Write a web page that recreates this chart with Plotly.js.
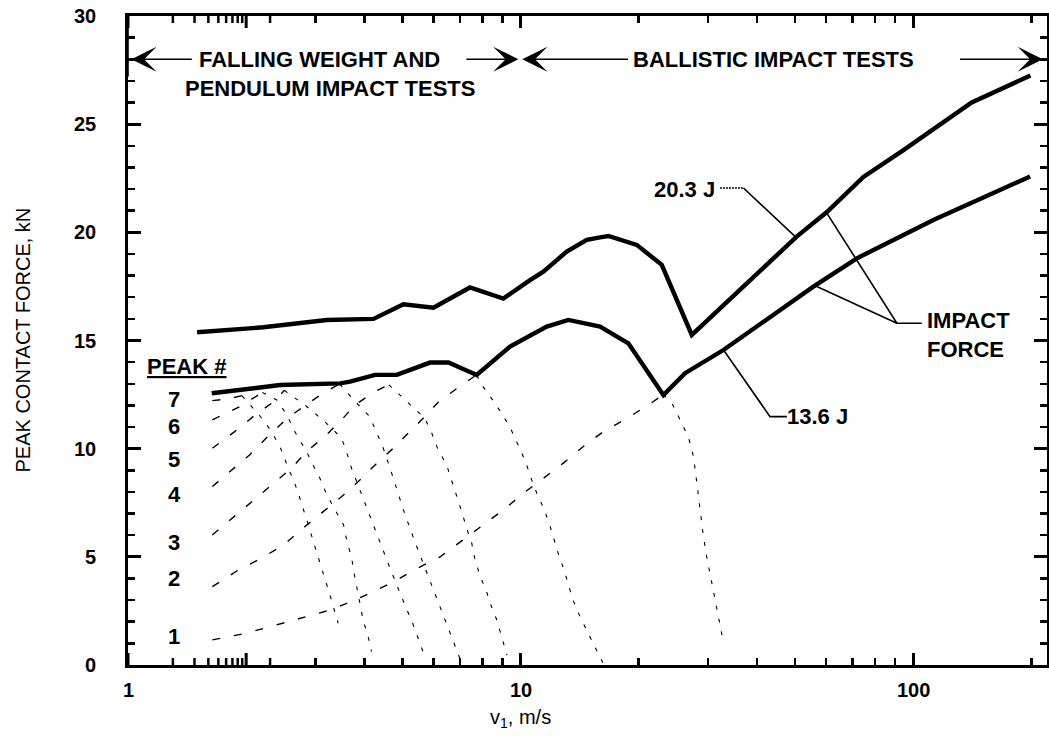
<!DOCTYPE html>
<html><head><meta charset="utf-8">
<script src="https://cdn.plot.ly/plotly-3.0.1.min.js"></script>
<style>html,body{margin:0;padding:0;background:#fff}#chart{width:1049px;height:736px}</style>
</head><body><div id="chart"></div>
<script>
// ---- thick impact-force curves ----
const curve203X = [1.5, 2.21, 3.21, 4.22, 5.03, 6.0, 7.43, 9.04, 10.57, 11.43, 13.11, 14.75, 15.94, 16.74, 19.77, 22.89, 27.3, 50.5, 60.3, 74.7, 94.5, 141, 199];
const curve203Y = [15.38, 15.61, 15.95, 16.0, 16.67, 16.52, 17.45, 16.94, 17.79, 18.18, 19.11, 19.65, 19.77, 19.83, 19.42, 18.5, 15.26, 19.8, 20.94, 22.56, 23.8, 26.0, 27.25];
const curve136X = [1.634, 2.44, 3.47, 3.68, 4.26, 4.84, 5.88, 6.55, 7.73, 9.4, 11.66, 13.24, 15.94, 18.82, 23.11, 26.25, 32.86, 55.7, 71.9, 112.6, 198.6];
const curve136Y = [12.56, 12.94, 13.02, 13.1, 13.41, 13.41, 13.98, 13.98, 13.41, 14.72, 15.64, 15.95, 15.64, 14.87, 12.48, 13.49, 14.56, 17.49, 18.8, 20.57, 22.58];

// ---- individual peaks: rising branches ----
const rise1X = [1.64, 1.95, 2.23, 2.51, 2.85, 3.27, 3.75, 4.22, 4.84, 5.44, 6.24, 7.15, 8.04, 9.04, 10.17, 11.43, 12.85, 14.45, 16.25, 18.65, 21.17, 23.1];
const rise1Y = [1.16, 1.43, 1.70, 1.97, 2.25, 2.54, 2.97, 3.39, 3.93, 4.46, 5.0, 5.78, 6.48, 7.17, 7.94, 8.63, 9.33, 10.1, 10.79, 11.4, 12.02, 12.5];
const rise2X = [1.64, 1.91, 2.19, 2.49, 2.79, 3.14, 3.54, 3.86, 4.26, 4.74, 5.23, 5.7, 6.17, 6.9, 7.73];
const rise2Y = [3.62, 4.39, 4.94, 5.55, 6.32, 7.09, 7.86, 8.48, 9.25, 10.02, 10.79, 11.48, 12.15, 12.8, 13.41];
const rise3X = [1.64, 1.86, 2.11, 2.35, 2.61, 2.85, 3.17, 3.5, 3.79, 4.26, 4.62];
const rise3Y = [6.01, 6.86, 7.71, 8.4, 9.1, 9.87, 10.56, 11.33, 12.03, 12.64, 12.95];
const rise4X = [1.64, 1.84, 2.04, 2.25, 2.54, 2.83, 3.1, 3.46];
const rise4Y = [8.25, 9.02, 9.71, 10.49, 11.4, 12.0, 12.5, 13.0];
const rise5X = [1.64, 1.87, 2.11, 2.39, 2.5];
const rise5Y = [10.02, 10.79, 11.56, 12.26, 12.7];
const rise6X = [1.64, 1.93, 2.2];
const rise6Y = [11.33, 11.95, 12.6];
const rise7X = [1.64, 1.8, 1.95];
const rise7Y = [12.22, 12.3, 12.45];

// ---- individual peaks: falling branches ----
const fall1X = [23.1, 24.3, 25.5, 26.8, 27.6, 28.2, 28.7, 29.2, 29.8, 30.4, 31.0, 31.6, 32.2, 32.9];
const fall1Y = [12.5, 12.1, 11.33, 10.5, 9.6, 8.3, 7.0, 6.0, 5.0, 4.2, 3.3, 2.5, 1.8, 1.0];
const fall2X = [7.73, 8.0, 8.45, 8.95, 9.45, 9.9, 10.3, 10.6, 11.0, 11.5, 11.9, 12.45, 12.9, 13.3, 13.6, 14.2, 14.9, 15.6, 16.2];
const fall2Y = [13.41, 12.9, 12.3, 11.64, 10.9, 10.1, 9.4, 8.7, 7.94, 7.17, 6.4, 5.2, 4.4, 3.6, 3.0, 2.2, 1.45, 0.7, 0.1];
const fall3X = [4.62, 5.18, 5.7, 5.94, 6.17, 6.48, 6.67, 6.87, 7.08, 7.29, 7.51, 7.64, 7.87, 8.19, 8.43, 8.7, 8.95, 9.23];
const fall3Y = [12.95, 12.1, 11.41, 10.72, 9.94, 9.25, 8.56, 7.78, 7.09, 6.32, 5.63, 4.94, 4.16, 3.39, 2.7, 2.08, 1.31, 0.46];
const fall4X = [3.46, 3.79, 4.13, 4.47, 4.74, 5.03, 5.38, 5.77, 6.18, 6.67, 7.08];
const fall4Y = [13.0, 12.18, 11.48, 10.02, 8.64, 7.17, 5.7, 4.24, 2.85, 1.31, 0.08];
const fall5X = [2.5, 2.83, 3.17, 3.5, 3.6, 3.71, 3.97, 4.26, 4.6, 4.93, 5.33, 5.7];
const fall5Y = [12.7, 12.0, 11.25, 10.49, 9.87, 9.1, 7.71, 6.24, 4.7, 3.32, 1.85, 0.4];
const fall6X = [2.2, 2.39, 2.54, 2.66, 2.85, 2.93, 3.08, 3.21, 3.37, 3.54, 3.62, 3.71, 3.76, 3.83, 3.97, 4.09, 4.17];
const fall6Y = [12.6, 12.26, 11.56, 10.79, 9.87, 9.4, 8.64, 7.86, 7.17, 6.48, 5.63, 5.0, 4.32, 3.55, 2.08, 1.31, 0.62];
const fall7X = [1.95, 2.15, 2.32, 2.45, 2.56, 2.66, 2.74, 2.82, 2.9, 2.99, 3.08, 3.17, 3.25, 3.34, 3.43];
const fall7Y = [12.45, 11.6, 10.8, 10.0, 9.1, 8.4, 7.71, 7.02, 6.3, 5.5, 4.7, 4.01, 3.39, 2.62, 1.93];

// ---- labels / ticks ----
const peakLabels = ['7', '6', '5', '4', '3', '2', '1'];
const peakLabelY = [12.29, 11.02, 9.48, 7.86, 5.66, 4.0, 1.31];
const xTickVals = [1, 10, 100];
const xTickText = ['1', '10', '100'];
const xMinorVals = [2, 3, 4, 5, 6, 7, 8, 9, 20, 30, 40, 50, 60, 70, 80, 90, 200];
const yTickVals = [0, 5, 10, 15, 20, 25, 30];
const yMinorVals = [1, 2, 3, 4, 6, 7, 8, 9, 11, 12, 13, 14, 16, 17, 18, 19, 21, 22, 23, 24, 26, 27, 28, 29];

// leader anchors (v, kN)
const lead203X = [32.2, 36.97, 50.0];
const lead203Y = [22.05, 22.05, 19.81];
const leadImpX = [105.2, 90.9, 60.27, 90.9, 56.84];
const leadImpY = [15.8, 15.8, 20.89, 15.8, 17.5];
const lead136X = [47.7, 43.2, 32.86];
const lead136Y = [11.48, 11.48, 14.57];

const L = Math.log10;
const X_LOG_MAX = 2.341;
const Y_MAX = 30;
const FONT = 'Liberation Sans, Arial, Helvetica, sans-serif';
const bold = {family: FONT, size: 22, color: '#000', weight: 'bold'};
const tickFont = {family: FONT, size: 20, color: '#000', weight: 'bold'};

const traces = [];
function line(x, y, dash, w) {
  traces.push({x: x, y: y, mode: 'lines', line: {color: '#000', width: w, dash: dash}});
}
const rises = [[rise1X, rise1Y], [rise2X, rise2Y], [rise3X, rise3Y], [rise4X, rise4Y], [rise5X, rise5Y], [rise6X, rise6Y], [rise7X, rise7Y]];
const falls = [[fall1X, fall1Y], [fall2X, fall2Y], [fall3X, fall3Y], [fall4X, fall4Y], [fall5X, fall5Y], [fall6X, fall6Y], [fall7X, fall7Y]];
rises.forEach(r => line(r[0], r[1], '8px,14px', 1.4));
falls.forEach(f => line(f[0], f[1], '4px,9px', 1.1));
line(lead203X.slice(0, 2), lead203Y.slice(0, 2), '2px,1px', 1.3);
line(lead203X.slice(1), lead203Y.slice(1), 'solid', 1.6);
line(leadImpX.slice(0, 3), leadImpY.slice(0, 3), 'solid', 1.6);
line(leadImpX.slice(3), leadImpY.slice(3), 'solid', 1.6);
line(lead136X, lead136Y, 'solid', 1.6);
line(curve203X, curve203Y, 'solid', 4.4);
line(curve136X, curve136Y, 'solid', 4.4);

// ---- inward frame ticks as pixel-sized shapes anchored on the axes ----
const shapes = [];
function xTicks(vals, len, w) {
  vals.forEach(v => {
    shapes.push({type: 'line', xref: 'x', yref: 'y', x0: L(v), x1: L(v), ysizemode: 'pixel', yanchor: 0, y0: 0, y1: len, line: {color: '#000', width: w}});
    shapes.push({type: 'line', xref: 'x', yref: 'y', x0: L(v), x1: L(v), ysizemode: 'pixel', yanchor: Y_MAX, y0: 0, y1: -len, line: {color: '#000', width: w}});
  });
}
function yTicks(vals, len, w) {
  vals.forEach(v => {
    shapes.push({type: 'line', xref: 'x', yref: 'y', y0: v, y1: v, xsizemode: 'pixel', xanchor: 0, x0: 0, x1: len, line: {color: '#000', width: w}});
    shapes.push({type: 'line', xref: 'x', yref: 'y', y0: v, y1: v, xsizemode: 'pixel', xanchor: X_LOG_MAX, x0: 0, x1: -len, line: {color: '#000', width: w}});
  });
}
xTicks(xTickVals, 12, 3);
xTicks(xMinorVals, 7, 2.5);
yTicks(yTickVals, 13, 3);
yTicks(yMinorVals, 7, 2.5);
// divider between the two test regimes at v = 10 m/s
shapes.push({type: 'line', xref: 'x', yref: 'y', x0: L(10), x1: L(10), y0: 27.2, y1: Y_MAX, line: {color: '#000', width: 1.6}});

const ann = [];
function txt(text, x, y, extra) {
  ann.push(Object.assign({text: text, x: L(x), y: y, xref: 'x', yref: 'y', showarrow: false,
    font: bold, xanchor: 'center', yanchor: 'middle'}, extra || {}));
}
txt('FALLING WEIGHT AND', 3.07, 28.0);
txt('PENDULUM IMPACT TESTS', 3.27, 26.63);
txt('BALLISTIC IMPACT TESTS', 44.2, 28.0);
txt('20.3 J', 26.1, 21.97);
txt('IMPACT<br>FORCE', 107.3, 15.27, {xanchor: 'left', align: 'left'});
txt('13.6 J', 57.1, 11.48);
txt('<u>PEAK #</u>', 1.411, 13.8);
peakLabels.forEach((p, i) => txt(p, 1.31, peakLabelY[i]));

function arrow(headX, tailX, y) {
  ann.push({text: ' ', x: L(headX), y: y, ax: L(tailX), ay: y, xref: 'x', yref: 'y', axref: 'x', ayref: 'y',
    showarrow: true, arrowhead: 3, arrowsize: 2.8, arrowwidth: 1.5, arrowcolor: '#000'});
}
arrow(1.02, 1.48, 28.0);
arrow(9.87, 7.15, 28.0);
arrow(10.1, 19.1, 28.0);
arrow(214, 129.4, 28.0);

// tick labels and axis titles
xTickVals.forEach((v, i) => ann.push({text: xTickText[i], x: L(v), y: -0.039, xref: 'x', yref: 'paper',
  showarrow: false, xanchor: 'center', yanchor: 'middle', font: tickFont}));
yTickVals.forEach(v => ann.push({text: String(v), x: -0.033, y: v, xref: 'paper', yref: 'y',
  showarrow: false, xanchor: 'right', yanchor: 'middle', font: tickFont}));
ann.push({text: 'v<sub>1</sub>, m/s', x: L(10), y: -0.082, xref: 'x', yref: 'paper', showarrow: false,
  xanchor: 'center', yanchor: 'middle', font: {family: FONT, size: 20, color: '#000'}});
ann.push({text: 'PEAK CONTACT FORCE, kN', x: -0.1153, y: 0.5, xref: 'paper', yref: 'paper', textangle: -90,
  showarrow: false, xanchor: 'center', yanchor: 'middle', font: {family: FONT, size: 20, color: '#000'}});

const layout = {
  width: 1049, height: 736,
  margin: {l: 128, r: 2, t: 16, b: 71},
  showlegend: false,
  xaxis: {type: 'log', range: [0, X_LOG_MAX], showline: true, linewidth: 3, linecolor: '#000', mirror: 'ticks',
    ticks: 'inside', ticklen: 12, tickwidth: 3, tickcolor: '#000', tickvals: xTickVals, ticktext: xTickText,
    showticklabels: false, showgrid: false, zeroline: false,
    minor: {ticks: 'inside', ticklen: 7, tickwidth: 2.5, tickcolor: '#000', tickmode: 'array', tickvals: xMinorVals, showgrid: false}},
  yaxis: {range: [0, Y_MAX], showline: true, linewidth: 3, linecolor: '#000', mirror: 'ticks',
    ticks: 'inside', ticklen: 13, tickwidth: 3, tickcolor: '#000', tickvals: yTickVals,
    showticklabels: false, showgrid: false, zeroline: false,
    minor: {ticks: 'inside', ticklen: 7, tickwidth: 2.5, tickcolor: '#000', dtick: 1, tick0: 0, showgrid: false}},
  shapes: shapes,
  annotations: ann
};

Plotly.newPlot('chart', traces, layout, {staticPlot: true});
</script>
</body></html>
